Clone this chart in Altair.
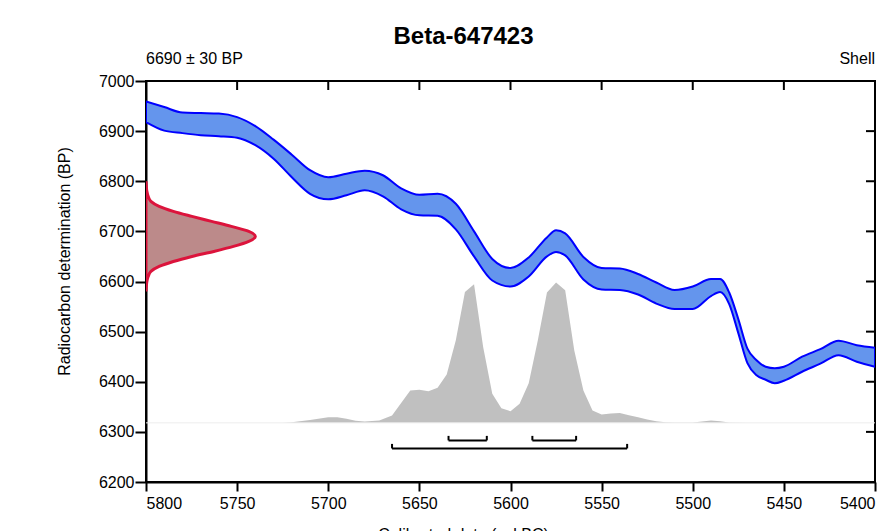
import altair as alt
import pandas as pd

# ---- calibration curve (IntCal band), cal BC vs BP ----
curve_years = [5800, 5790, 5780, 5770, 5760, 5750, 5740, 5730, 5720, 5710, 5700, 5690,
               5680, 5670, 5660, 5650, 5640, 5630, 5620, 5610, 5600, 5590, 5580, 5575,
               5570, 5560, 5550, 5540, 5530, 5520, 5510, 5500, 5490, 5485, 5480, 5475,
               5470, 5465, 5460, 5455, 5450, 5440, 5430, 5420, 5410, 5400]
curve_upper = [6959, 6948, 6937, 6936, 6935, 6928, 6910, 6883, 6853, 6822, 6808, 6815,
               6821, 6812, 6786, 6773, 6775, 6755, 6700, 6645, 6627, 6648, 6688, 6702,
               6696, 6649, 6627, 6626, 6615, 6598, 6583, 6590, 6605, 6605, 6578, 6525,
               6466, 6443, 6430, 6427, 6430, 6450, 6465, 6482, 6473, 6468]
curve_lower = [6918, 6901, 6896, 6892, 6890, 6887, 6872, 6845, 6808, 6775, 6764, 6772,
               6782, 6770, 6744, 6732, 6731, 6704, 6650, 6602, 6590, 6610, 6650, 6659,
               6652, 6604, 6584, 6583, 6574, 6556, 6545, 6545, 6571, 6579, 6555, 6497,
               6437, 6413, 6404, 6397, 6402, 6420, 6436, 6453, 6440, 6430]

# ---- calibrated probability distribution (relative) ----
cal_years = [5800, 5725, 5720, 5710, 5700, 5695, 5690, 5685, 5680, 5672, 5665, 5655,
             5650, 5645, 5640, 5635, 5630, 5625, 5620, 5615, 5610, 5605, 5600, 5595,
             5590, 5585, 5580, 5575, 5570, 5565, 5560, 5555, 5550, 5545, 5540, 5535,
             5530, 5525, 5520, 5515, 5510, 5500, 5490, 5485, 5480, 5470, 5400]
cal_prob = [0, 0, 0.005, 0.02, 0.04, 0.04, 0.03, 0.015, 0.01, 0.016, 0.052, 0.23,
            0.236, 0.226, 0.25, 0.345, 0.588, 0.933, 0.988, 0.54, 0.207, 0.104, 0.083, 0.136,
            0.283, 0.588, 0.929, 1.0, 0.945, 0.516, 0.231, 0.088, 0.059, 0.066, 0.071, 0.055,
            0.04, 0.024, 0.012, 0.005, 0.002, 0.003, 0.016, 0.012, 0.002, 0, 0]
cal_baseline = [6318]

# ---- radiocarbon determination 6690 +/- 30 BP (relative density) ----
c14_bp = [6800, 6790, 6780, 6770, 6760, 6750, 6740, 6730, 6720, 6710, 6700, 6690,
          6680, 6670, 6660, 6650, 6640, 6630, 6620, 6610, 6600, 6590, 6580]
c14_density = [0.0, 0.003, 0.008, 0.02, 0.045, 0.12, 0.25, 0.42, 0.60, 0.78, 0.94, 1.0,
               0.94, 0.80, 0.62, 0.42, 0.25, 0.12, 0.045, 0.02, 0.008, 0.003, 0.0]

# ---- calibrated ranges ----
range_start = [5665, 5634, 5588]
range_end = [5536, 5613, 5564]
range_level = [6267, 6283, 6283]

x_ticks = [5800, 5750, 5700, 5650, 5600, 5550, 5500, 5450, 5400]
y_ticks = [6200, 6300, 6400, 6500, 6600, 6700, 6800, 6900, 7000]

FONT = "Liberation Sans"
W, H = 729, 401

xscale = alt.Scale(domain=[5400, 5800], reverse=True, nice=False, zero=False)
yscale = alt.Scale(domain=[6200, 7000], nice=False, zero=False)

curve_df = pd.DataFrame({"year": curve_years, "upper": curve_upper, "lower": curve_lower})
cal_df = pd.DataFrame({"year": cal_years, "p": cal_prob})
base_df = pd.DataFrame({"b": cal_baseline})
c14_df = pd.DataFrame({"bp": c14_bp, "d": c14_density}).sort_values("bp")
rng_df = pd.DataFrame({"start": range_start, "end": range_end, "level": range_level})
ends_df = pd.DataFrame({
    "x": range_start + range_end,
    "level": range_level + range_level,
})
xt_df = pd.DataFrame({"t": x_ticks})
yt_df = pd.DataFrame({"t": y_ticks})

x_enc = alt.X("year:Q", scale=xscale,
              axis=alt.Axis(values=x_ticks, title="Calibrated date (cal BC)", format="d",
                            titleX=317, titleY=57, titleBaseline="alphabetic",
                            tickSize=9, labelPadding=4))
y_axis = alt.Axis(values=y_ticks, title="Radiocarbon determination (BP)", format="d",
                  titleX=-82, titleY=180, titleAngle=-90, titleBaseline="middle",
                  tickSize=11, labelPadding=1)

cal_area = alt.Chart(cal_df).transform_calculate(
    gy="6318 + datum.p * 280", gy0="6318"
).mark_area(color="#C0C0C0", clip=True).encode(
    x=x_enc,
    y=alt.Y("gy:Q", scale=yscale, axis=y_axis),
    y2="gy0:Q",
)

base_rule = alt.Chart(base_df).mark_rule(color="#EDEDED", strokeWidth=1).encode(
    y=alt.Y("b:Q", scale=yscale)
)

band = alt.Chart(curve_df).mark_area(
    fill="#6495ED", stroke="#0000FF", strokeWidth=2, fillOpacity=1, clip=True,
    interpolate="monotone"
).encode(
    x=alt.X("year:Q", scale=xscale),
    y=alt.Y("upper:Q", scale=yscale),
    y2="lower:Q",
)

c14 = alt.Chart(c14_df).transform_calculate(
    gx="5800 - datum.d * 60", gx0="5800"
).mark_area(
    orient="horizontal", fill="#BC8A8A", stroke="#DC143C", strokeWidth=3, clip=True,
    interpolate="monotone"
).encode(
    y=alt.Y("bp:Q", scale=yscale),
    x=alt.X("gx:Q", scale=xscale, stack=None),
    x2="gx0:Q",
)

hbars = alt.Chart(rng_df).mark_rule(color="black", strokeWidth=2).encode(
    x=alt.X("start:Q", scale=xscale), x2="end:Q", y=alt.Y("level:Q", scale=yscale)
)
vends = alt.Chart(ends_df).transform_calculate(top="datum.level + 9").mark_rule(
    color="black", strokeWidth=2
).encode(
    x=alt.X("x:Q", scale=xscale), y=alt.Y("level:Q", scale=yscale), y2="top:Q"
)

top_ticks = alt.Chart(xt_df).mark_rule(color="black", strokeWidth=2).encode(
    x=alt.X("t:Q", scale=xscale), y=alt.value(0), y2=alt.value(9)
)
right_ticks = alt.Chart(yt_df).mark_rule(color="black", strokeWidth=2).encode(
    y=alt.Y("t:Q", scale=yscale), x=alt.value(W - 9), x2=alt.value(W)
)

left_txt = alt.Chart(pd.DataFrame({"s": ["6690 ± 30 BP"]})).mark_text(
    align="left", baseline="alphabetic", font=FONT, fontSize=16, color="black"
).encode(x=alt.value(0), y=alt.value(-17), text="s:N")
right_txt = alt.Chart(pd.DataFrame({"s": ["Shell"]})).mark_text(
    align="right", baseline="alphabetic", font=FONT, fontSize=16, color="black"
).encode(x=alt.value(W), y=alt.value(-17), text="s:N")

chart = alt.layer(
    cal_area, base_rule, band, c14, hbars, vends, top_ticks, right_ticks, left_txt, right_txt
).properties(
    width=W, height=H,
    title=alt.TitleParams("Beta-647423", font=FONT, fontSize=24, fontWeight="bold",
                          color="black", anchor="middle", frame="group",
                          baseline="alphabetic", offset=0, dx=-47, dy=17),
    autosize=alt.AutoSizeParams(type="none"),
    padding={"left": 138, "top": 73, "right": 2, "bottom": 70},
).configure_view(
    stroke="black", strokeWidth=2
).configure_axis(
    grid=False, domainColor="black", domainWidth=2, tickColor="black", tickWidth=2,
    labelFont=FONT, labelFontSize=16, labelColor="black",
    titleFont=FONT, titleFontSize=16, titleColor="black", titleFontWeight="normal",
)

chart.save("out.html", embed_options={"renderer": "svg", "actions": False})
